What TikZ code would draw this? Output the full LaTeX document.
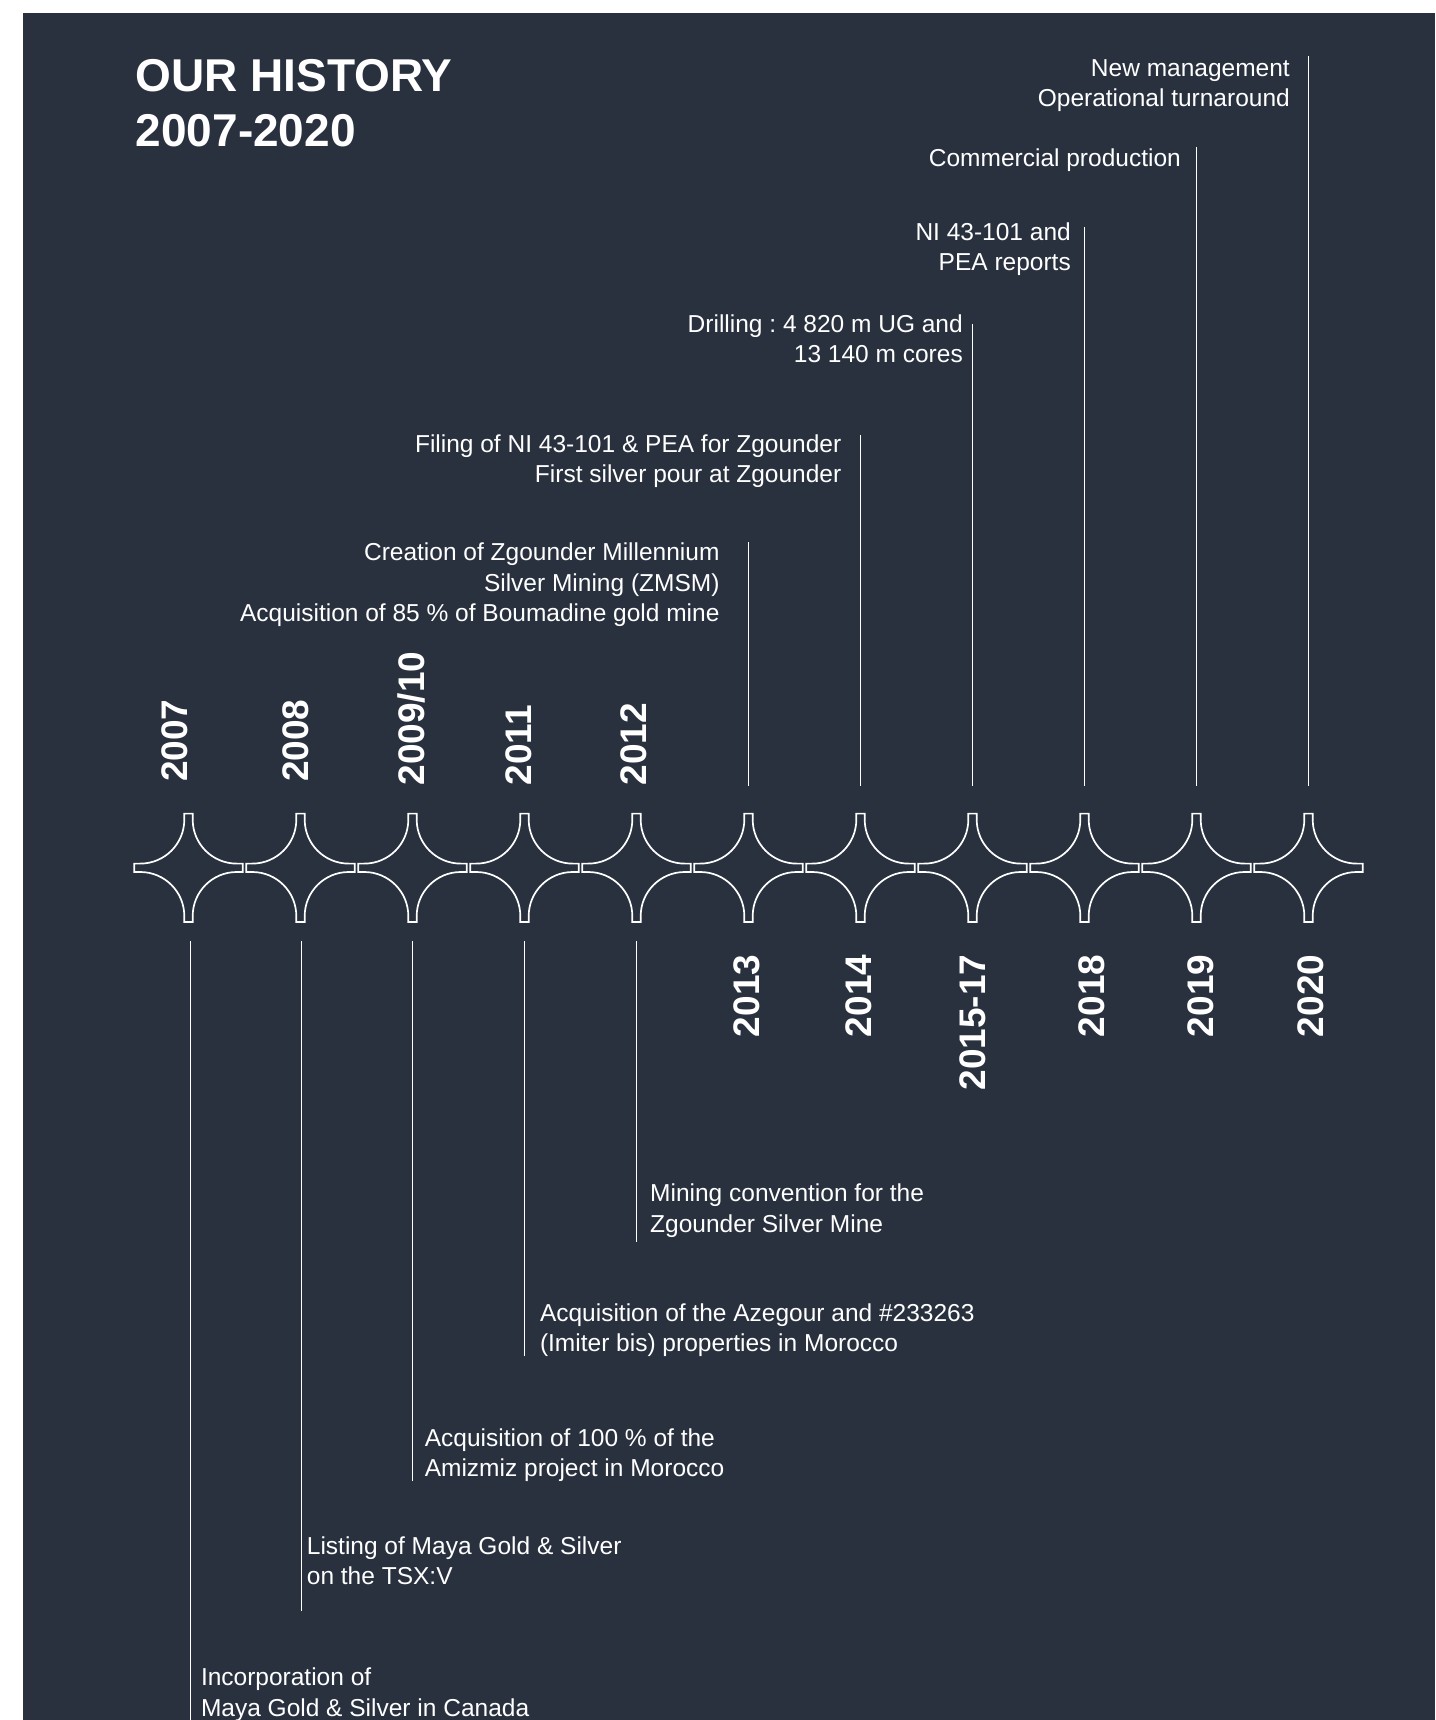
\documentclass[tikz,border=0pt]{standalone}
\usepackage{fontspec}
\setmainfont{Liberation Sans}
\frenchspacing
\usetikzlibrary{positioning}
\definecolor{panel}{HTML}{29313F}
\tikzset{
    rule/.style = {white, line width=1.7pt},
    event/.style = {text=white, inner sep=0pt, font=\fontsize{24.5}{30.5}\selectfont},
    later/.style = {event, align=right, anchor=base east},
    earlier/.style = {event, align=left, anchor=base west},
    year/.style = {text=white, inner sep=0pt, rotate=90, font=\fontsize{37}{37}\selectfont\bfseries},
    sparkle/.pic = {
        \draw[rule, line join=miter] (-4.2,-54.2) -- (4.2,-54.2) -- (4.2,-48.2)
            arc[start angle=180, end angle=90, radius=44] -- (54.2,-4.2) -- (54.2,4.2) -- (48.2,4.2)
            arc[start angle=270, end angle=180, radius=44] -- (4.2,54.2) -- (-4.2,54.2) -- (-4.2,48.2)
            arc[start angle=360, end angle=270, radius=44] -- (-54.2,4.2) -- (-54.2,-4.2) -- (-48.2,-4.2)
            arc[start angle=90, end angle=0, radius=44] -- cycle;
    }
}

\begin{document}
\begin{tikzpicture}[x=1pt, y=-1pt]
    \useasboundingbox (0,0) rectangle (1435,1720);
    \fill[white] (0,0) rectangle (1435,1720);
    \fill[panel] (23,13) rectangle (1435,1720);

    % base of a node with several lines is its last line
    \node[text=white, inner sep=0pt, align=left, anchor=base west,
        font=\fontsize{46}{55}\selectfont\bfseries] (head) at (135.5,146.7) {OUR HISTORY\\2007-2020};

    % the row of stars
    \foreach \yr [count=\i from 0] in {2007,2008,2009,2011,2012,2013,2014,2015,2018,2019,2020}
        \path (188.5+112*\i,867.8) coordinate (s\yr) pic {sparkle};

    % years
    \node[year, anchor=base west] (y2007) at (187,782) {2007};
    \node[year, anchor=base west] (y2008) at (308,782) {2008};
    \node[year, anchor=base west] (y2009) at (424,785.5) {2009/10};
    \node[year, anchor=base west] (y2011) at (531,785.5) {2011};
    \node[year, anchor=base west] (y2012) at (646,785.5) {2012};
    \node[year, anchor=base east] (y2013) at (759.6,954.5) {2013};
    \node[year, anchor=base east] (y2014) at (871.4,954.5) {2014};
    \node[year, anchor=base east] (y2015) at (985.6,954.5) {2015-17};
    \node[year, anchor=base east] (y2018) at (1104,954.5) {2018};
    \node[year, anchor=base east] (y2019) at (1213,954.5) {2019};
    \node[year, anchor=base east] (y2020) at (1323,954.5) {2020};

    % events above the stars
    \node[later] (e2013) at (719.7,621.6) {Creation of Zgounder Millennium\\Silver Mining (ZMSM)\\Acquisition of 85 \% of Boumadine gold mine};
    \node[later] (e2014) at (841.5,482.5) {Filing of NI 43-101 \& PEA for Zgounder\\First silver pour at Zgounder};
    \node[later] (e2015) at (963,362.9) {Drilling : 4 820 m UG and\\13 140 m cores};
    \node[later] (e2018) at (1071,270.5) {NI 43-101 and\\PEA reports};
    \node[later] (e2019) at (1181,166.7) {Commercial production};
    \node[later] (e2020) at (1290,107) {New management\\Operational turnaround};

    % events below the stars
    \node[earlier] (e2012) at (650,1232.3) {Mining convention for the\\Zgounder Silver Mine};
    \node[earlier] (e2011) at (539.8,1351.5) {Acquisition of the Azegour and \#233263\\(Imiter bis) properties in Morocco};
    \node[earlier] (e2009) at (424.6,1476.5) {Acquisition of 100 \% of the\\Amizmiz project in Morocco};
    \node[earlier] (e2008) at (306.7,1584.5) {Listing of Maya Gold \& Silver\\on the TSX:V};
    \node[earlier] (e2007) at (200.8,1716) {Incorporation of\\Maya Gold \& Silver in Canada};

    % free ends of the rules
    \coordinate (t2013) at (748.5,542);
    \coordinate (t2014) at (860.5,434.5);
    \coordinate (t2015) at (972.5,323.6);
    \coordinate (t2018) at (1084.5,227);
    \coordinate (t2019) at (1196.5,146.7);
    \coordinate (t2020) at (1308.5,56);
    \coordinate (b2012) at (636.5,1242);
    \coordinate (b2011) at (524.5,1356);
    \coordinate (b2009) at (412.5,1481);
    \coordinate (b2008) at (301.5,1610.5);
    \coordinate (b2007) at (190.5,1720);

    \foreach \yr in {2013,2014,2015,2018,2019,2020}
        \draw[rule] (s\yr) ++(0,-82.3) -- (t\yr);
    \foreach \yr in {2009,2011,2012}
        \draw[rule] (s\yr) ++(0,73.2) -- (b\yr);
    \draw[rule] (s2008) ++(1,73.2) -- (b2008);
    \draw[rule] (s2007) ++(2,73.2) -- (b2007);
\end{tikzpicture}
\end{document}
